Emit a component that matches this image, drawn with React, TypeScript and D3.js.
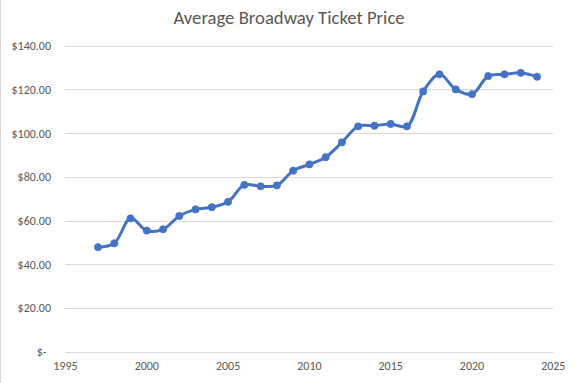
import React from "react";
import * as d3 from "d3";

const years = [1997, 1998, 1999, 2000, 2001, 2002, 2003, 2004, 2005, 2006, 2007, 2008, 2009, 2010, 2011, 2012, 2013, 2014, 2015, 2016, 2017, 2018, 2019, 2020, 2021, 2022, 2023, 2024];
const prices = [47.8, 49.6, 61.0, 55.4, 56.0, 62.1, 65.1, 66.1, 68.6, 76.3, 75.7, 76.1, 82.8, 85.7, 89.0, 95.8, 103.1, 103.4, 104.2, 103.1, 119.1, 126.9, 120.0, 117.8, 126.1, 126.9, 127.6, 125.8];
const yTicks = [0, 20, 40, 60, 80, 100, 120, 140];
const xTicks = [1995, 2000, 2005, 2010, 2015, 2020, 2025];
const title = "Average Broadway Ticket Price";

const W = 578;
const H = 383;
const FONT = "Calibri, Carlito, 'Liberation Sans Narrow', Lato, sans-serif";

export default function App() {
  const x = d3.scaleLinear().domain([1995, 2025]).range([65.5, 553.3]);
  const y = d3.scaleLinear().domain([0, 140]).range([351.7, 45.7]);
  const pts: [number, number][] = years.map((yr, i) => [x(yr), y(prices[i])]);
  const line = d3.line().curve(d3.curveCatmullRom.alpha(0.5))(pts) || "";
  const fmt = (v: number) => (v === 0 ? "$-" : "$" + d3.format(",.2f")(v));

  return (
    <svg width={W} height={H} style={{ position: "absolute", left: 0, top: 0, background: "#fff" }}>
      <rect x={0} y={0} width={W} height={H} fill="#fff" />
      <line x1={0.5} x2={0.5} y1={0} y2={H} stroke="#d9d9d9" />
      <text x={289} y={24} textAnchor="middle" fontFamily={FONT} fontSize={18.7} fill="#595959">
        {title}
      </text>
      {yTicks.map((t) => (
        <g key={t}>
          <line x1={65.5} x2={553.3} y1={Math.round(y(t)) + 0.5} y2={Math.round(y(t)) + 0.5} stroke="#d9d9d9" strokeWidth={1} />
          <text x={t === 0 ? 46.5 : 51} y={y(t) + 4.5} textAnchor="end" fontFamily={FONT} fontSize={12} fill="#595959">
            {fmt(t)}
          </text>
        </g>
      ))}
      {xTicks.map((t) => (
        <text key={t} x={x(t)} y={370} textAnchor="middle" fontFamily={FONT} fontSize={12} fill="#595959">
          {t}
        </text>
      ))}
      <path d={line} fill="none" stroke="#4472C4" strokeWidth={3} strokeLinejoin="round" strokeLinecap="round" />
      {pts.map((p, i) => (
        <circle key={i} cx={p[0]} cy={p[1]} r={3.6} fill="#4472C4" stroke="#4472C4" strokeWidth={0.75} />
      ))}
    </svg>
  );
}
